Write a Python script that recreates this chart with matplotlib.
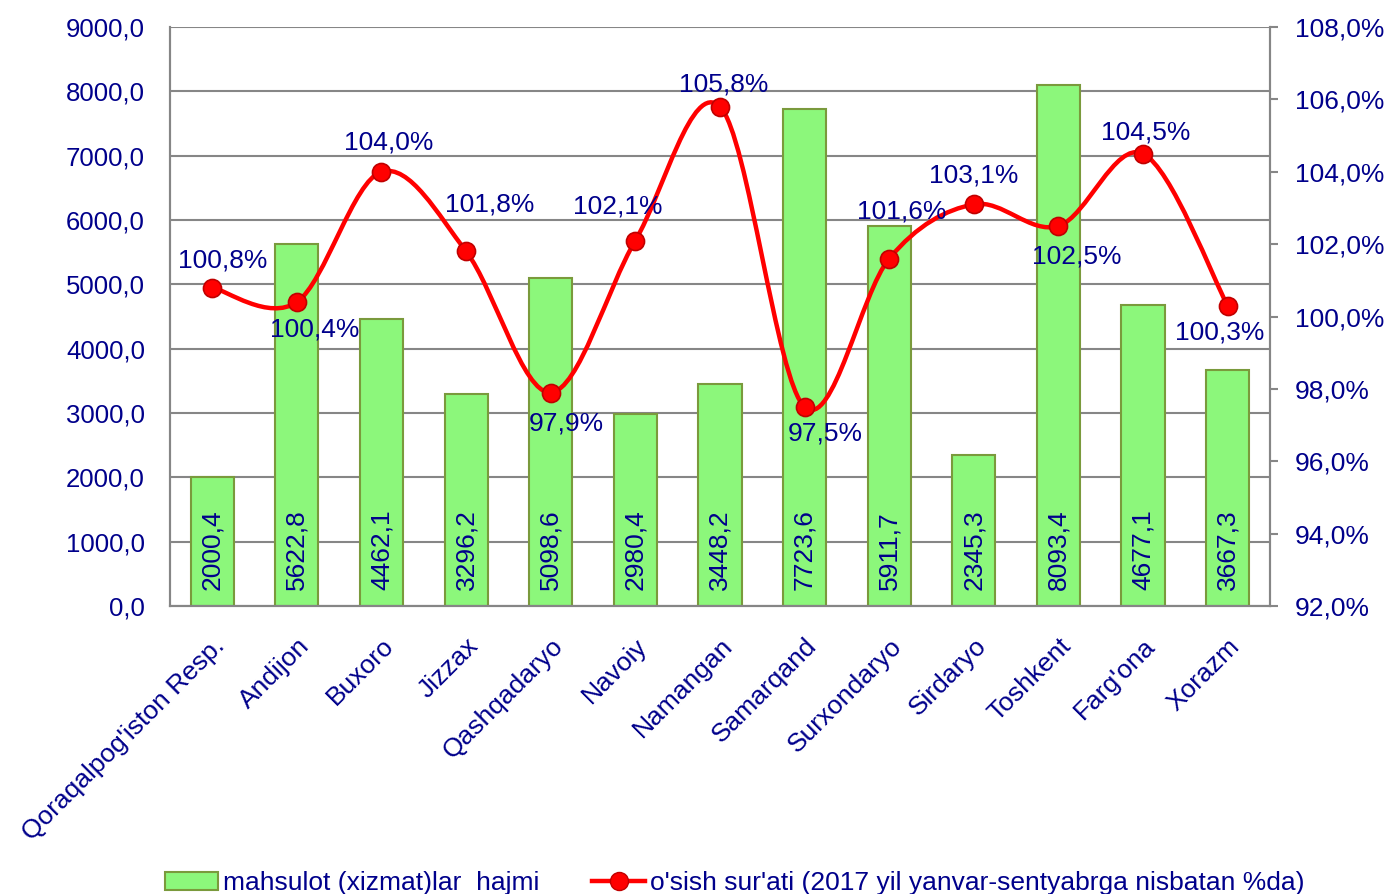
import matplotlib
matplotlib.use('Agg')
import matplotlib.pyplot as plt
from matplotlib.path import Path
from matplotlib.patches import PathPatch, Patch
from matplotlib.lines import Line2D

plt.rcParams['font.family'] = ['Liberation Sans', 'DejaVu Sans']

regions = ["Qoraqalpog'iston Resp.", "Andijon", "Buxoro", "Jizzax", "Qashqadaryo",
           "Navoiy", "Namangan", "Samarqand", "Surxondaryo", "Sirdaryo",
           "Toshkent", "Farg'ona", "Xorazm"]
volume = [2000.4, 5622.8, 4462.1, 3296.2, 5098.6, 2980.4, 3448.2,
          7723.6, 5911.7, 2345.3, 8093.4, 4677.1, 3667.3]
growth = [100.8, 100.4, 104.0, 101.8, 97.9, 102.1, 105.8,
          97.5, 101.6, 103.1, 102.5, 104.5, 100.3]
# label offsets (pixels) for growth labels
lab_off = [(10, 27), (18, -27), (7, 29), (24, 47), (16, -31), (-18, 34), (4, 22),
           (21, -27), (12, 47), (0, 29), (18, -30), (3, 21), (-8, -27)]

txt = '#00008B'
grid_c = '#868686'
fs = 19

fig = plt.figure(figsize=(13.84, 8.94), dpi=100)
ax = fig.add_axes([0.1228, 0.3221, 0.7948, 0.6477])
ax2 = ax.twinx()

x = list(range(len(regions)))
ax.bar(x, volume, width=0.51, color='#8CF77B', edgecolor='#7A9A3C', linewidth=1.5, zorder=2)
ax.set_xlim(-0.5, len(regions) - 0.5)
ax.set_ylim(0, 9000)
ax.set_yticks(range(0, 9001, 1000))
ax.set_yticklabels([f"{v:.1f}".replace('.', ',') for v in range(0, 9001, 1000)])
ax.set_axisbelow(True)
ax.yaxis.grid(True, color=grid_c, linewidth=1.5)
ax.tick_params(axis='y', length=0, pad=18, labelsize=fs - 0.5, labelcolor=txt)
ax.set_xticks(x)
ax.set_xticklabels(regions, rotation=45, ha='right', va='top', rotation_mode='anchor')
ax.tick_params(axis='x', length=0, pad=20, labelsize=fs, labelcolor=txt)

for xi, v in zip(x, volume):
    ax.text(xi, 250, f"{v:.1f}".replace('.', ','), rotation=90, ha='center', va='bottom',
            fontsize=fs, color=txt, zorder=3)

for a in (ax, ax2):
    a.spines['top'].set_visible(False)
    for s in ('left', 'right', 'bottom'):
        a.spines[s].set_color(grid_c)
        a.spines[s].set_linewidth(1.5)

ax2.set_ylim(92, 108)
ax2.set_yticks(range(92, 109, 2))
ax2.set_yticklabels([f"{v:.1f}%".replace('.', ',') for v in range(92, 109, 2)])
ax2.tick_params(axis='y', direction='out', length=6, width=1.5, color=grid_c,
                pad=12, labelsize=fs, labelcolor=txt)

# smooth line (Excel-style bezier through the points)
pts = list(zip(x, growth))
verts = [pts[0]]
codes = [Path.MOVETO]
n = len(pts)
for i in range(n - 1):
    p0 = pts[max(i - 1, 0)]
    p1 = pts[i]
    p2 = pts[i + 1]
    p3 = pts[min(i + 2, n - 1)]
    c1 = (p1[0] + (p2[0] - p0[0]) / 6, p1[1] + (p2[1] - p0[1]) / 6)
    c2 = (p2[0] - (p3[0] - p1[0]) / 6, p2[1] - (p3[1] - p1[1]) / 6)
    verts += [c1, c2, p2]
    codes += [Path.CURVE4] * 3
ax2.add_patch(PathPatch(Path(verts, codes), facecolor='none', edgecolor='#FF0000',
                        linewidth=3.2, zorder=3))
ax2.plot(x, growth, 'o', color='#FF0000', markeredgecolor='#C00000',
         markeredgewidth=1.2, markersize=13, zorder=4)

for xi, g, off in zip(x, growth, lab_off):
    ax2.annotate(f"{g:.1f}%".replace('.', ','), (xi, g), xytext=off,
                 textcoords='offset pixels', ha='center', va='center',
                 fontsize=fs, color=txt, zorder=5)

handles = [Patch(facecolor='#8CF77B', edgecolor='#7A9A3C', linewidth=1.5),
           Line2D([], [], color='#FF0000', linewidth=3.2, marker='o', markersize=13,
                  markeredgecolor='#C00000')]
fig.legend(handles, ["mahsulot (xizmat)lar  hajmi",
                     "o'sish sur'ati (2017 yil yanvar-sentyabrga nisbatan %da)"],
           loc='center', bbox_to_anchor=(0.531, 0.012), ncol=2, frameon=False,
           fontsize=fs, labelcolor=txt, handlelength=2.0, columnspacing=2.0,
           handletextpad=0.2)

fig.savefig('out.png', dpi=100)
